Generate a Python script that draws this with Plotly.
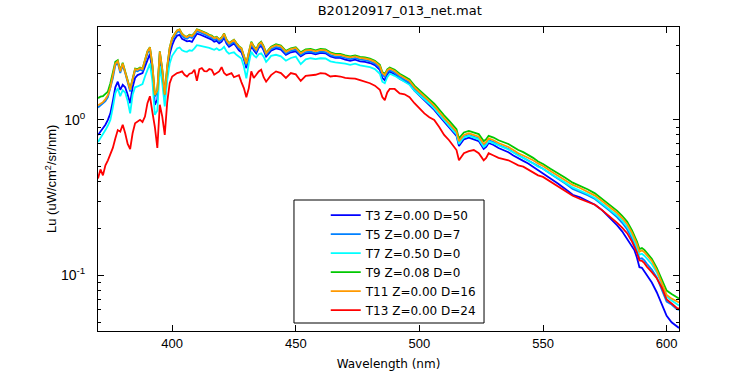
import plotly.graph_objects as go

wavelength = [
    370, 371, 372, 373, 374, 375, 376, 377, 378, 379,
    380, 381, 382, 383, 384, 385, 386, 387, 388, 389,
    390, 391, 392, 393, 394, 395, 396, 397, 398, 399,
    400, 401, 402, 403, 404, 405, 406, 407, 408, 409,
    410, 411, 412, 413, 414, 415, 416, 417, 418, 419,
    420, 421, 422, 423, 424, 425, 426, 427, 428, 429,
    430, 431, 432, 433, 434, 435, 436, 437, 438, 439,
    440, 442, 444, 446, 448, 450, 452, 454, 456,
    458, 460, 462, 464, 466, 468, 470, 472, 474, 476,
    478, 480, 482, 484, 485, 486, 487, 488, 490, 492,
    494, 496, 498, 500, 502, 504, 506, 508, 510, 512,
    514, 515, 516, 517, 518, 520, 522, 524, 526, 527,
    528, 530, 532, 534, 536, 538, 540, 542, 544, 546,
    548, 550, 553, 556, 559, 562, 565, 568, 571, 574,
    577, 580, 582, 584, 586, 587, 588, 589, 590, 591,
    592, 594, 596, 598, 600, 602, 604, 605,
]

t3 = [
    0.80, 0.84, 0.87, 0.93, 1.00, 1.10, 1.32, 1.62, 1.76, 1.56,
    1.68, 1.62, 1.45, 1.28, 1.62, 1.86, 1.94, 1.98, 2.00, 2.20,
    2.45, 2.66, 2.05, 1.25, 1.35, 2.50, 1.95, 1.35, 2.00, 2.65,
    3.02, 3.30, 3.48, 3.52, 3.32, 3.25, 3.20, 3.22, 3.17, 3.38,
    3.58, 3.55, 3.50, 3.45, 3.38, 3.32, 3.28, 3.18, 3.22, 3.10,
    3.18, 3.38, 3.10, 2.95, 3.04, 3.10, 2.95, 2.80, 2.72, 2.46,
    2.15, 2.55, 3.00, 2.80, 2.68, 2.90, 3.00, 2.80, 2.55, 2.66,
    2.78, 2.88, 2.83, 2.62, 2.72, 2.76, 2.56, 2.68, 2.70,
    2.64, 2.70, 2.68, 2.56, 2.50, 2.50, 2.44, 2.40, 2.44, 2.38,
    2.36, 2.32, 2.25, 2.10, 1.86, 1.80, 1.96, 2.04, 1.96, 1.84,
    1.77, 1.70, 1.54, 1.44, 1.34, 1.25, 1.16, 1.06, 0.97, 0.90,
    0.82, 0.79, 0.68, 0.72, 0.75, 0.77, 0.75, 0.73, 0.65, 0.67,
    0.71, 0.69, 0.66, 0.64, 0.62, 0.59, 0.565, 0.545, 0.525, 0.50,
    0.475, 0.455, 0.42, 0.39, 0.36, 0.33, 0.318, 0.30, 0.285, 0.262,
    0.236, 0.21, 0.192, 0.172, 0.155, 0.145, 0.13, 0.113, 0.112, 0.106,
    0.10, 0.090, 0.078, 0.066, 0.055, 0.050, 0.047, 0.046,
]

t5 = [
    1.20, 1.24, 1.27, 1.32, 1.40, 1.58, 1.85, 2.24, 2.32, 2.00,
    2.24, 2.00, 1.73, 1.52, 1.80, 2.07, 2.05, 2.10, 2.07, 2.34,
    2.68, 2.85, 2.19, 1.41, 1.51, 2.68, 2.05, 1.41, 2.14, 2.83,
    3.27, 3.46, 3.66, 3.70, 3.46, 3.36, 3.32, 3.41, 3.36, 3.51,
    3.70, 3.66, 3.61, 3.56, 3.49, 3.41, 3.36, 3.27, 3.32, 3.20,
    3.27, 3.49, 3.17, 3.02, 3.12, 3.18, 3.02, 2.88, 2.81, 2.54,
    2.24, 2.63, 3.07, 2.88, 2.75, 2.97, 3.07, 2.88, 2.61, 2.73,
    2.85, 2.94, 2.90, 2.67, 2.78, 2.83, 2.61, 2.73, 2.75,
    2.69, 2.75, 2.73, 2.61, 2.55, 2.55, 2.50, 2.46, 2.50, 2.44,
    2.42, 2.38, 2.30, 2.16, 1.95, 1.89, 2.03, 2.09, 2.01, 1.89,
    1.81, 1.74, 1.58, 1.48, 1.38, 1.29, 1.20, 1.09, 1.00, 0.93,
    0.85, 0.82, 0.71, 0.75, 0.78, 0.80, 0.78, 0.76, 0.68, 0.70,
    0.74, 0.72, 0.69, 0.67, 0.65, 0.62, 0.595, 0.575, 0.555, 0.53,
    0.505, 0.485, 0.45, 0.42, 0.39, 0.36, 0.345, 0.328, 0.31, 0.285,
    0.26, 0.236, 0.218, 0.198, 0.174, 0.16, 0.145, 0.128, 0.129, 0.125,
    0.119, 0.109, 0.097, 0.082, 0.068, 0.065, 0.061, 0.060,
]

t7 = [
    0.72, 0.76, 0.80, 0.86, 0.92, 1.00, 1.20, 1.48, 1.60, 1.42,
    1.55, 1.50, 1.32, 1.10, 1.45, 1.62, 1.64, 1.68, 1.70, 1.90,
    2.10, 2.30, 1.78, 1.08, 1.15, 2.22, 1.72, 1.22, 1.80, 2.30,
    2.58, 2.75, 2.88, 2.92, 2.80, 2.76, 2.74, 2.80, 2.78, 2.88,
    3.02, 3.00, 2.98, 2.95, 2.92, 2.90, 2.86, 2.82, 2.88, 2.80,
    2.84, 2.95, 2.75, 2.66, 2.70, 2.72, 2.62, 2.55, 2.48, 2.20,
    1.85, 2.30, 2.74, 2.60, 2.52, 2.64, 2.68, 2.55, 2.36, 2.46,
    2.58, 2.62, 2.56, 2.40, 2.50, 2.55, 2.28, 2.45, 2.49,
    2.46, 2.49, 2.48, 2.38, 2.34, 2.33, 2.30, 2.26, 2.30, 2.24,
    2.22, 2.18, 2.12, 1.98, 1.76, 1.72, 1.88, 1.98, 1.92, 1.84,
    1.76, 1.68, 1.54, 1.45, 1.36, 1.27, 1.18, 1.08, 0.99, 0.92,
    0.84, 0.81, 0.70, 0.74, 0.77, 0.79, 0.77, 0.75, 0.67, 0.69,
    0.73, 0.71, 0.685, 0.665, 0.645, 0.615, 0.59, 0.57, 0.55, 0.525,
    0.50, 0.485, 0.452, 0.425, 0.395, 0.368, 0.352, 0.334, 0.315, 0.29,
    0.266, 0.243, 0.226, 0.206, 0.181, 0.167, 0.152, 0.136, 0.138, 0.134,
    0.128, 0.118, 0.105, 0.088, 0.073, 0.069, 0.066, 0.064,
]

t9 = [
    1.38, 1.41, 1.42, 1.46, 1.52, 1.72, 1.98, 2.36, 2.42, 2.08,
    2.33, 2.08, 1.80, 1.58, 1.88, 2.14, 2.12, 2.17, 2.13, 2.42,
    2.77, 2.93, 2.26, 1.44, 1.56, 2.76, 2.12, 1.46, 2.22, 2.92,
    3.36, 3.56, 3.76, 3.82, 3.58, 3.46, 3.42, 3.52, 3.48, 3.62,
    3.82, 3.78, 3.72, 3.68, 3.60, 3.52, 3.48, 3.38, 3.42, 3.30,
    3.38, 3.60, 3.28, 3.12, 3.22, 3.28, 3.12, 2.98, 2.90, 2.62,
    2.32, 2.72, 3.18, 2.98, 2.84, 3.08, 3.18, 2.98, 2.70, 2.83,
    2.95, 3.06, 3.00, 2.78, 2.88, 2.93, 2.72, 2.84, 2.86,
    2.80, 2.86, 2.84, 2.72, 2.66, 2.66, 2.60, 2.56, 2.60, 2.54,
    2.52, 2.48, 2.40, 2.26, 2.03, 1.97, 2.11, 2.17, 2.10, 1.98,
    1.90, 1.82, 1.66, 1.56, 1.46, 1.36, 1.27, 1.16, 1.07, 0.99,
    0.90, 0.87, 0.76, 0.80, 0.83, 0.85, 0.83, 0.81, 0.73, 0.75,
    0.79, 0.77, 0.74, 0.72, 0.70, 0.67, 0.64, 0.62, 0.595, 0.57,
    0.54, 0.52, 0.485, 0.455, 0.425, 0.395, 0.378, 0.358, 0.337, 0.31,
    0.285, 0.26, 0.242, 0.222, 0.195, 0.180, 0.165, 0.148, 0.150, 0.146,
    0.140, 0.128, 0.112, 0.094, 0.080, 0.076, 0.072, 0.071,
]

t11 = [
    1.24, 1.27, 1.30, 1.36, 1.44, 1.62, 1.90, 2.30, 2.38, 2.05,
    2.30, 2.05, 1.78, 1.56, 1.85, 2.12, 2.10, 2.15, 2.12, 2.40,
    2.75, 2.92, 2.25, 1.45, 1.55, 2.75, 2.10, 1.45, 2.20, 2.90,
    3.35, 3.55, 3.75, 3.80, 3.55, 3.45, 3.40, 3.50, 3.45, 3.60,
    3.80, 3.75, 3.70, 3.65, 3.58, 3.50, 3.45, 3.35, 3.40, 3.28,
    3.35, 3.58, 3.25, 3.10, 3.20, 3.26, 3.10, 2.95, 2.88, 2.60,
    2.30, 2.70, 3.15, 2.95, 2.82, 3.05, 3.15, 2.95, 2.68, 2.80,
    2.92, 3.02, 2.97, 2.74, 2.85, 2.90, 2.68, 2.80, 2.82,
    2.76, 2.82, 2.80, 2.68, 2.62, 2.62, 2.56, 2.52, 2.56, 2.50,
    2.48, 2.44, 2.36, 2.22, 2.00, 1.94, 2.08, 2.14, 2.06, 1.94,
    1.86, 1.78, 1.62, 1.52, 1.42, 1.32, 1.23, 1.12, 1.03, 0.95,
    0.87, 0.84, 0.73, 0.77, 0.80, 0.82, 0.80, 0.78, 0.70, 0.72,
    0.76, 0.74, 0.71, 0.69, 0.67, 0.64, 0.61, 0.59, 0.57, 0.55,
    0.525, 0.505, 0.47, 0.44, 0.41, 0.382, 0.365, 0.346, 0.326, 0.30,
    0.276, 0.252, 0.234, 0.214, 0.188, 0.174, 0.159, 0.142, 0.145, 0.141,
    0.135, 0.124, 0.108, 0.090, 0.075, 0.071, 0.068, 0.067,
]

t13 = [
    0.42, 0.48, 0.44, 0.51, 0.55, 0.60, 0.66, 0.76, 0.86, 0.84,
    0.93, 0.82, 0.70, 0.65, 0.82, 0.95, 0.98, 1.00, 0.97, 1.05,
    1.28, 1.42, 1.12, 0.90, 0.66, 1.25, 1.05, 0.80, 1.30, 1.72,
    1.90, 1.96, 2.00, 2.02, 2.05, 1.95, 1.90, 1.98, 2.00, 2.10,
    1.78, 2.12, 2.15, 2.06, 2.05, 2.12, 2.10, 1.95, 2.00, 2.05,
    2.18, 2.00, 1.94, 1.98, 2.00, 1.88, 1.90, 1.94, 1.75, 1.60,
    1.40, 1.60, 2.05, 1.86, 1.95, 2.05, 2.10, 1.88, 1.76, 1.85,
    1.94, 2.05, 2.00, 1.86, 2.00, 1.96, 1.78, 1.92, 1.94,
    1.95, 2.00, 1.98, 1.90, 1.92, 1.90, 1.86, 1.85, 1.84, 1.80,
    1.76, 1.72, 1.66, 1.56, 1.40, 1.34, 1.50, 1.58, 1.58, 1.48,
    1.46, 1.40, 1.28, 1.18, 1.10, 1.04, 1.00, 0.90, 0.80, 0.74,
    0.67, 0.64, 0.55, 0.58, 0.61, 0.63, 0.64, 0.61, 0.55, 0.57,
    0.61, 0.59, 0.57, 0.56, 0.55, 0.53, 0.51, 0.50, 0.48, 0.46,
    0.44, 0.43, 0.40, 0.375, 0.35, 0.325, 0.31, 0.298, 0.285, 0.262,
    0.24, 0.218, 0.203, 0.187, 0.165, 0.152, 0.14, 0.125, 0.124, 0.12,
    0.114, 0.105, 0.096, 0.084, 0.070, 0.066, 0.062, 0.061,
]

series_names = ["T3 Z=0.00 D=50", "T5 Z=0.00 D=7", "T7 Z=0.50 D=0",
                "T9 Z=0.08 D=0", "T11 Z=0.00 D=16", "T13 Z=0.00 D=24"]
series_values = [t3, t5, t7, t9, t11, t13]
series_colors = ["#0000FF", "#0080FF", "#00FFFF", "#00C800", "#FF9900", "#FF0000"]

x_ticks = [400, 450, 500, 550, 600]
y_major = [0.1, 1]
y_major_text = ["10<sup>-1</sup>", "10<sup>0</sup>"]
y_minor = [0.05, 0.06, 0.07, 0.08, 0.09, 0.2, 0.3, 0.4, 0.5, 0.6, 0.7, 0.8, 0.9, 2, 3]

FONT = "Liberation Sans, Arial, Helvetica, sans-serif"
WIDE = "DejaVu Sans, Liberation Sans, sans-serif"

fig = go.Figure()
for name, vals, col in zip(series_names, series_values, series_colors):
    fig.add_trace(go.Scatter(x=wavelength, y=vals, mode="lines", name=name,
                             line=dict(color=col, width=1.8)))

# legend frame (Matlab style box, wider than Plotly's own legend)
fig.add_shape(type="rect", xref="paper", yref="paper",
              x0=0.3373, x1=0.6644, y0=0.0263, y1=0.4309,
              line=dict(color="black", width=1), fillcolor="white", layer="above")

# y-axis title as a rotated annotation for exact placement
fig.add_annotation(text="Lu (uW/cm<sup>2</sup>/sr/nm)", textangle=-90,
                   xref="paper", yref="paper", x=0, y=0.5, xanchor="center", yanchor="middle",
                   xshift=-47, showarrow=False, font=dict(size=13, family=FONT))

fig.update_layout(
    width=750, height=375,
    paper_bgcolor="white", plot_bgcolor="white",
    margin=dict(l=98, r=71, t=27, b=44, autoexpand=False),
    font=dict(family=FONT, size=12, color="black"),
    title=dict(text="B20120917_013_net.mat", x=0.533, xanchor="center", xref="container",
               y=0.973, yanchor="middle", font=dict(size=13, family=WIDE)),
    showlegend=True,
    legend=dict(x=0.392, y=0.4290, xanchor="left", yanchor="top",
                bgcolor="rgba(255,255,255,0)", borderwidth=0,
                font=dict(size=12, family=WIDE), tracegroupgap=0),
)
fig.update_xaxes(range=[370, 605], tickvals=x_ticks, ticks="inside", ticklen=6,
                 tickcolor="black", showline=True, linecolor="black", linewidth=1,
                 mirror="ticks", showgrid=False, zeroline=False, automargin=False,
                 tickfont=dict(size=13),
                 title=dict(text="Wavelength (nm)", font=dict(size=12, family=WIDE), standoff=10))
fig.update_yaxes(type="log", range=[-1.357, 0.597], tickmode="array",
                 tickvals=y_major, ticktext=y_major_text, ticks="inside", ticklen=6,
                 tickcolor="black", showline=True, linecolor="black", linewidth=1,
                 mirror="ticks", showgrid=False, zeroline=False, automargin=False,
                 tickfont=dict(size=14), ticklabelstandoff=9,
                 minor=dict(tickmode="array", tickvals=y_minor, ticks="inside",
                            ticklen=3, tickcolor="black", showgrid=False))

fig.write_html("out.html", config={"displayModeBar": False},
               post_script="document.body.style.margin='0';")
